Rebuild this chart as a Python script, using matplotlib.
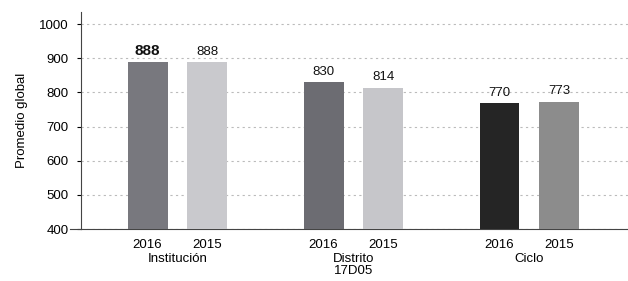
import matplotlib
matplotlib.use("Agg")
import matplotlib.pyplot as plt

groups = ["Institución", "Distrito\n17D05", "Ciclo"]
years = ["2016", "2015"]
values_2016 = [888, 830, 770]
values_2015 = [888, 814, 773]
colors_2016 = ["#78787e", "#6c6c72", "#252525"]
colors_2015 = ["#c9c9cd", "#c6c6ca", "#8c8c8c"]

plt.rcParams['font.family'] = ['Liberation Sans', 'DejaVu Sans']

fig = plt.figure(figsize=(6.28, 2.81), dpi=100)
ax = fig.add_axes([0.129, 0.185, 0.871, 0.772])

off = 0.17
w = 0.227
pos_2016 = [i - off for i in range(len(groups))]
pos_2015 = [i + off for i in range(len(groups))]

ax.bar(pos_2016, values_2016, width=w, color=colors_2016, zorder=3)
ax.bar(pos_2015, values_2015, width=w, color=colors_2015, zorder=3)

for i in range(len(groups)):
    wt = "bold" if i == 0 else "normal"
    fs = 11 if i == 0 else 9.5
    ax.text(pos_2016[i], values_2016[i] + 12, str(values_2016[i]), ha="center", va="bottom",
            fontsize=fs, fontweight=wt, color="#111111")
    ax.text(pos_2015[i], values_2015[i] + 12, str(values_2015[i]), ha="center", va="bottom",
            fontsize=9.5, color="#111111")

ax.set_ylim(400, 1035)
ax.set_xlim(-0.548, 2.56)
ax.set_yticks([400, 500, 600, 700, 800, 900, 1000])
ax.tick_params(axis="y", labelsize=9.5, length=3, pad=6)
ax.set_ylabel("Promedio global", fontsize=9.5, labelpad=8)

ticks = pos_2016 + pos_2015
ax.set_xticks(ticks)
ax.set_xticklabels([years[0]] * 3 + [years[1]] * 3, fontsize=9.5)
ax.tick_params(axis="x", length=0, pad=7)

for i, g in enumerate(groups):
    ax.text(i, -0.11, g, transform=ax.get_xaxis_transform(), ha="center", va="top",
            fontsize=9.5, linespacing=1.05)

ax.grid(axis="y", linestyle=(0, (2, 3)), color="#bbbbbb", linewidth=0.8, zorder=0)
for s in ["top", "right"]:
    ax.spines[s].set_visible(False)
ax.spines["left"].set_color("#444444")
ax.spines["bottom"].set_color("#444444")
ax.plot([-0.02, 0], [0, 0], transform=ax.transAxes, color="#444444", linewidth=0.8, clip_on=False)

fig.savefig("out.png", dpi=100)
